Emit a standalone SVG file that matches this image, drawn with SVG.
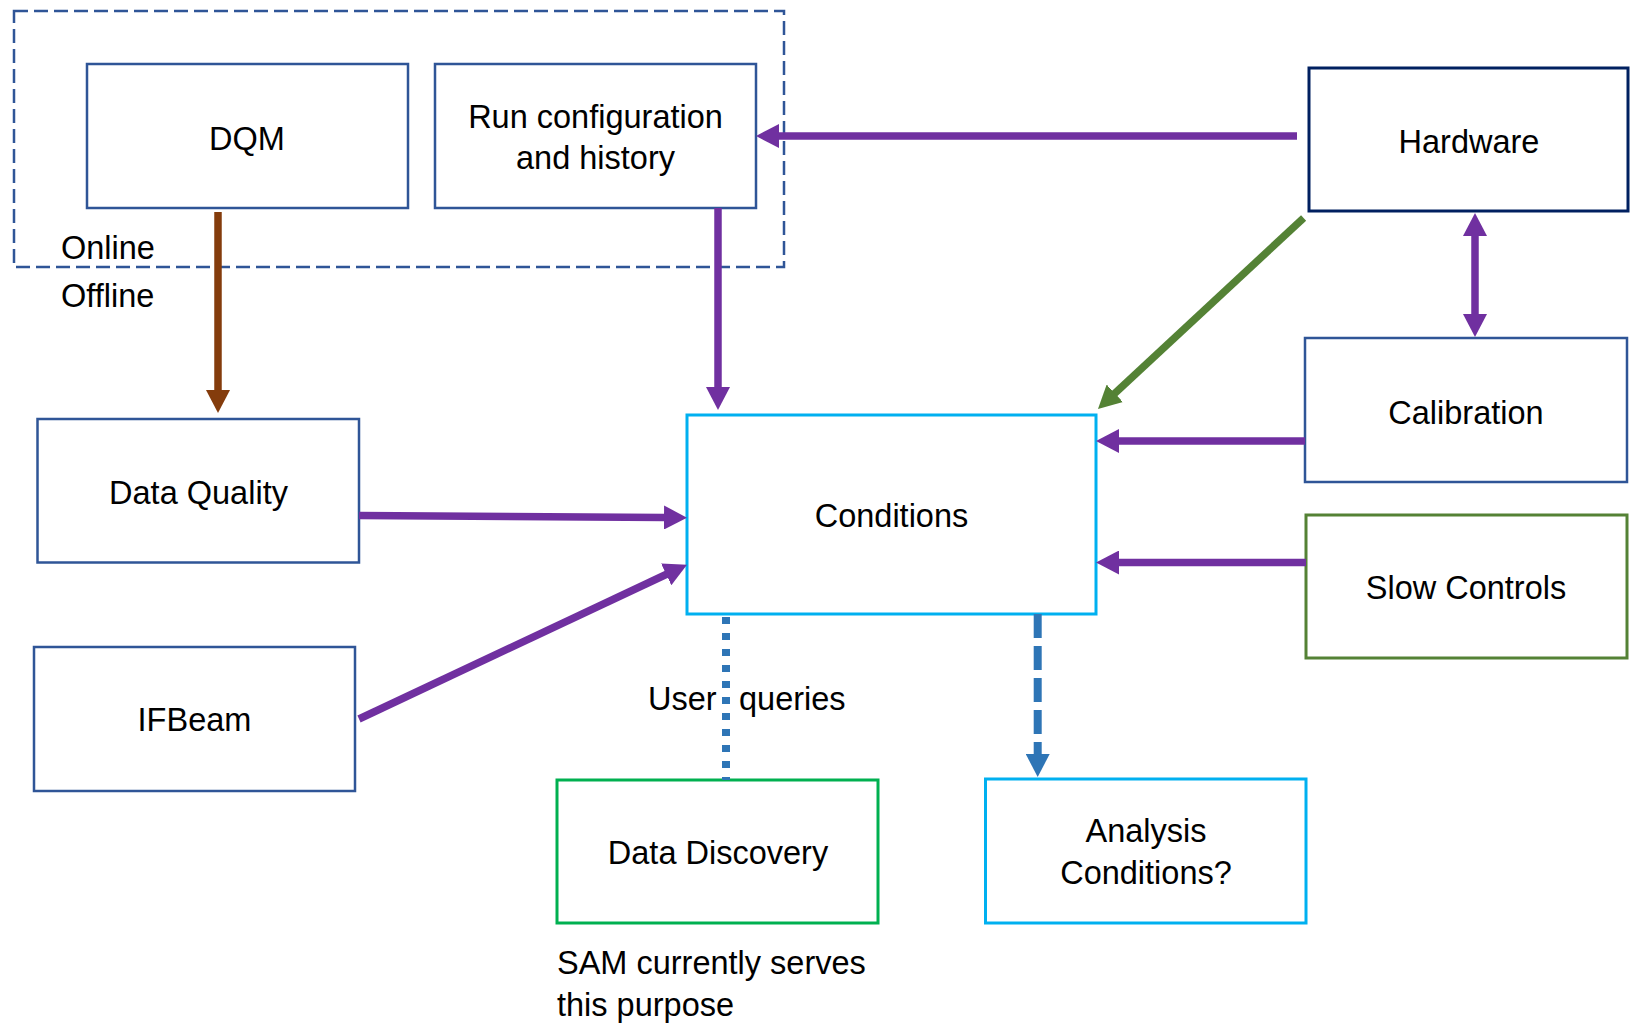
<svg xmlns="http://www.w3.org/2000/svg" width="1630" height="1025" viewBox="0 0 1630 1025">
<style>
text{font-family:"Liberation Sans",Arial,sans-serif;font-size:32.5px;fill:#000}
.c{text-anchor:middle}
.box{fill:#fff;stroke-width:2.5}
.navy{stroke:#2F5597}
.dark{stroke:#002060;stroke-width:3}
.cyan{stroke:#00B0F0;stroke-width:3}
.green{stroke:#00B050;stroke-width:3}
.olive{stroke:#548235;stroke-width:3}
.p{stroke:#7030A0;stroke-width:7.5;fill:none}
</style>
<defs>
<marker id="ap" markerUnits="userSpaceOnUse" markerWidth="24" markerHeight="24" viewBox="0 0 24 24" refX="1" refY="12" orient="auto-start-reverse"><path d="M0,0 L23,12 L0,24 Z" fill="#7030A0"/></marker>
<marker id="ab" markerUnits="userSpaceOnUse" markerWidth="24" markerHeight="24" viewBox="0 0 24 24" refX="1" refY="12" orient="auto"><path d="M0,0 L23,12 L0,24 Z" fill="#843C0C"/></marker>
<marker id="ag" markerUnits="userSpaceOnUse" markerWidth="24" markerHeight="24" viewBox="0 0 24 24" refX="1" refY="12" orient="auto"><path d="M0,0 L23,12 L0,24 Z" fill="#548235"/></marker>
<marker id="abl" markerUnits="userSpaceOnUse" markerWidth="24" markerHeight="24" viewBox="0 0 24 24" refX="1" refY="12" orient="auto"><path d="M0,0 L23,12 L0,24 Z" fill="#2E75B6"/></marker>
</defs>
<rect width="1630" height="1025" fill="#fff"/>

<g id="online-region">
<rect x="14" y="11" width="770" height="256" fill="none" stroke="#2F5597" stroke-width="2.5" stroke-dasharray="14 6"/>
<text x="61" y="259">Online</text>
<text x="61" y="307">Offline</text>
</g>

<g id="dqm"><rect class="box navy" x="87" y="64" width="321" height="144"/><text class="c" x="247" y="150">DQM</text></g>
<g id="runconfig"><rect class="box navy" x="435" y="64" width="321" height="144"/><text class="c" x="595.5" y="128">Run configuration</text><text class="c" x="595.5" y="169">and history</text></g>
<g id="hardware"><rect class="box dark" x="1309" y="68" width="319" height="143"/><text class="c" x="1469" y="153">Hardware</text></g>
<g id="calibration"><rect class="box navy" x="1305" y="338" width="322" height="144"/><text class="c" x="1466" y="424">Calibration</text></g>
<g id="conditions"><rect class="box cyan" x="687" y="415" width="409" height="199"/><text class="c" x="891.5" y="527">Conditions</text></g>
<g id="slowcontrols"><rect class="box olive" x="1306" y="515" width="321" height="143"/><text class="c" x="1466" y="599">Slow Controls</text></g>
<g id="dataquality"><rect class="box navy" x="37.5" y="419" width="321.5" height="143.5"/><text class="c" x="198.5" y="504">Data Quality</text></g>
<g id="ifbeam"><rect class="box navy" x="34" y="647" width="321" height="144"/><text class="c" x="194.5" y="731">IFBeam</text></g>
<g id="datadiscovery"><rect class="box green" x="557" y="780" width="321" height="143"/><text class="c" x="718" y="864">Data Discovery</text></g>
<g id="analysis"><rect class="box cyan" x="985.5" y="779" width="320.5" height="144"/><text class="c" x="1146" y="842">Analysis</text><text class="c" x="1146" y="884">Conditions?</text></g>
<g id="notes">
<text x="557" y="974">SAM currently serves</text>
<text x="557" y="1016">this purpose</text>
</g>

<g id="connectors">
<line class="p" x1="1297" y1="136" x2="778" y2="136" marker-end="url(#ap)"/>
<line class="p" x1="718" y1="208" x2="718" y2="388" marker-end="url(#ap)"/>
<line x1="218" y1="212" x2="218" y2="391" stroke="#843C0C" stroke-width="7.5" marker-end="url(#ab)"/>
<line x1="1303.6" y1="218" x2="1114.1" y2="394" stroke="#548235" stroke-width="7.5" marker-end="url(#ag)"/>
<line class="p" x1="1475" y1="235" x2="1475" y2="315" marker-start="url(#ap)" marker-end="url(#ap)"/>
<line class="p" x1="1305" y1="441" x2="1118" y2="441" marker-end="url(#ap)"/>
<line class="p" x1="1306" y1="562.5" x2="1118" y2="562.5" marker-end="url(#ap)"/>
<line class="p" x1="359" y1="515.6" x2="665" y2="517.5" marker-end="url(#ap)"/>
<line class="p" x1="359" y1="719" x2="667.1" y2="574" marker-end="url(#ap)"/>
<line x1="1037.7" y1="614" x2="1037.7" y2="755" stroke="#2E75B6" stroke-width="8" stroke-dasharray="24 8" marker-end="url(#abl)"/>
<line id="userqueries" x1="726" y1="614" x2="726" y2="780" stroke="#2E75B6" stroke-width="8" stroke-dasharray="7 9" stroke-dashoffset="13"/>
<text x="648" y="710">User</text>
<text x="739" y="710">queries</text>
</g>
</svg>
